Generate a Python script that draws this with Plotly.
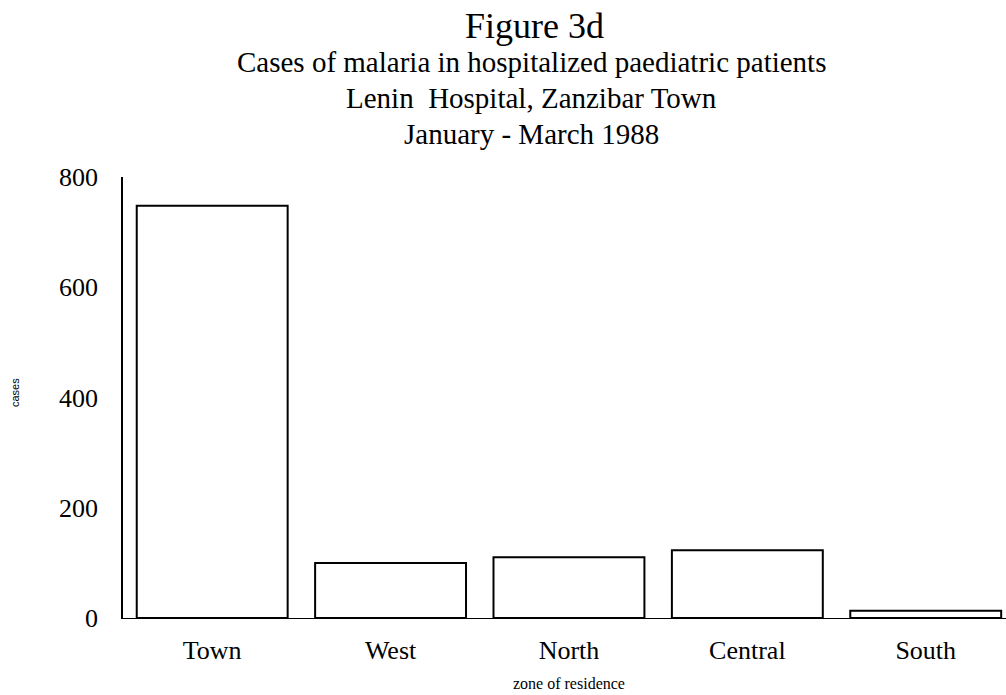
import plotly.graph_objects as go

zones = ["Town", "West", "North", "Central", "South"]
cases = [748, 100, 110, 123, 13]
y_ticks = [0, 200, 400, 600, 800]

serif = "Liberation Serif, Times New Roman, serif"

W, H = 1006, 695
L, R, T, B = 123, 0, 177, 77

fig = go.Figure(go.Bar(
    x=zones, y=cases,
    marker=dict(color="white", line=dict(color="black", width=2)),
    showlegend=False,
))

fig.update_layout(
    width=W, height=H,
    margin=dict(l=L, r=R, t=T, b=B, autoexpand=False),
    paper_bgcolor="white", plot_bgcolor="white",
    bargap=0.154,
    font=dict(family=serif, color="black"),
    xaxis=dict(
        range=[-0.5, 4.45], showline=True, linecolor="black", linewidth=1,
        showgrid=False, zeroline=False, ticks="outside", ticklen=9, tickcolor="white",
        tickfont=dict(size=26, family=serif), automargin=False,
    ),
    yaxis=dict(
        range=[0, 800], tickvals=y_ticks, showline=True, linecolor="black", linewidth=1.5,
        showgrid=False, zeroline=False, ticks="outside", ticklen=18, tickcolor="white",
        tickfont=dict(size=26, family=serif), automargin=False,
    ),
)

plot_w = W - L - R
plot_h = H - T - B

# screen pixel -> paper coordinates
def px(x):
    return (x - L) / plot_w

def py(y):
    return (H - B - y) / plot_h

def note(text, x, y, size, family=serif, angle=0):
    fig.add_annotation(text=text, x=px(x), y=py(y), xref="paper", yref="paper",
                       xanchor="center", yanchor="middle", showarrow=False,
                       textangle=angle, font=dict(size=size, family=family))

note("Figure 3d", 534, 26, 36)
titles = ["Cases of malaria in hospitalized paediatric patients",
          "Lenin  Hospital, Zanzibar Town",
          "January - March 1988"]
for i, t in enumerate(titles):
    note(t, 531, 62 + 36 * i, 29)

note("zone of residence", 569, 683, 16)
note("cases", 15, 393, 11, family="Liberation Sans, Arial", angle=-90)

fig.write_html("out.html", config={"displayModeBar": False},
               post_script="document.body.style.margin='0px';")
